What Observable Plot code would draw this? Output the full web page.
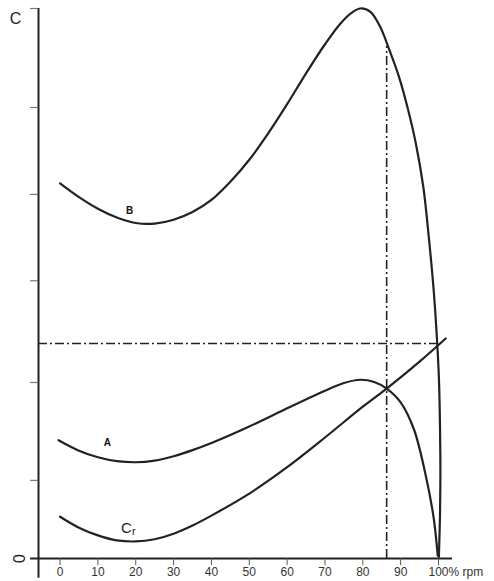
<!DOCTYPE html>
<html>
<head>
<meta charset="utf-8">
<script src="https://cdn.jsdelivr.net/npm/d3@7"></script>
<script src="https://cdn.jsdelivr.net/npm/@observablehq/plot@0.6"></script>
<style>
  html, body { margin: 0; padding: 0; background: #fff; }
  svg { font-family: "Liberation Sans", Arial, sans-serif; }
</style>
</head>
<body>
<div id="chart"></div>
<script>
// Curve B
const bX = [0, 5, 10, 15, 20, 25, 30, 35, 40, 45, 50, 55, 60, 65, 70, 74, 77, 79.4, 82.0, 84.5, 87.0, 89.5, 92.0, 94.0, 96.0, 97.5, 98.7, 99.5, 100.1, 100.4, 100.5, 100.4, 100.1];
const bY = [68.2, 65.7, 63.6, 62.0, 61.0, 60.9, 61.6, 63.0, 65.2, 68.5, 72.5, 77.3, 82.6, 88.2, 93.5, 97.2, 99.2, 100, 99.4, 96.8, 92.5, 87.7, 81.5, 75.5, 67.5, 58.0, 49.0, 41.0, 33.0, 24.0, 16.0, 8.0, 0.3];
// Curve A
const aX = [-0.4, 5, 10, 15, 20, 25, 30, 35, 40, 50, 60, 70, 75, 79.4, 83, 86.3, 90, 93.5, 96.5, 98.7, 99.8];
const aY = [21.5, 19.6, 18.4, 17.7, 17.5, 17.8, 18.6, 19.7, 21.0, 24.0, 27.3, 30.5, 31.9, 32.5, 32.1, 30.9, 28.4, 23.5, 15.5, 7.5, 0.5];
// Curve Cr
const crX = [0, 5, 10, 15, 20, 25, 30, 35, 40, 50, 60, 70, 80, 86.3, 95, 101.9];
const crY = [7.6, 5.6, 4.2, 3.3, 3.1, 3.5, 4.5, 6.0, 7.8, 11.8, 16.6, 22.0, 27.6, 30.9, 35.8, 40.0];
// Axis ticks
const xTicks = [0, 10, 20, 30, 40, 50, 60, 70, 80, 90, 100];
const xTickLabels = ["0", "10", "20", "30", "40", "50", "60", "70", "80", "90", "100"];
const yTicks = [100, 82, 66.2, 50.5, 32, 14.2];
// Reference (dash-dot) lines
const refX = 86.3;
const refXTop = 93.1;
const refY = 39.1;
const refYEnd = 100.5;

const xMin = -5.7, xMax = 103.7;
const toPts = (xs, ys) => xs.map((x, i) => ({x, y: ys[i]}));
const ink = "#222";

const chart = Plot.plot({
  width: 494,
  height: 581,
  marginLeft: 38,
  marginRight: 42,
  marginTop: 8,
  marginBottom: 23,
  x: {domain: [xMin, xMax], axis: null},
  y: {domain: [0, 100], axis: null},
  marks: [
    // dash-dot reference lines
    Plot.ruleY([refY], {x1: xMin, x2: refYEnd, stroke: ink, strokeWidth: 1.6, strokeDasharray: "9,3,2,3"}),
    Plot.ruleX([refX], {y1: 0, y2: refXTop, stroke: ink, strokeWidth: 1.6, strokeDasharray: "9,3,2,3"}),
    // curves
    Plot.line(toPts(bX, bY), {x: "x", y: "y", curve: "catmull-rom", stroke: ink, strokeWidth: 2.2}),
    Plot.line(toPts(aX, aY), {x: "x", y: "y", curve: "catmull-rom", stroke: ink, strokeWidth: 2.2}),
    Plot.line(toPts(crX, crY), {x: "x", y: "y", curve: "catmull-rom", stroke: ink, strokeWidth: 2.2}),
    // axes
    Plot.ruleX([xMin], {y1: -3.6, y2: 100, stroke: ink, strokeWidth: 2}),
    Plot.ruleY([0], {x1: -7.8, x2: xMax, stroke: ink, strokeWidth: 2.2}),
    Plot.ruleY(yTicks, {x1: -7.8, x2: xMin, stroke: "#777", strokeWidth: 1.2}),
    Plot.ruleX(xTicks, {y1: 0, y2: -1.3, stroke: "#555", strokeWidth: 1}),
    Plot.text(xTicks, {x: d => d, y: -2.4, text: (d, i) => xTickLabels[i], fontSize: 12, fill: "#333", textAnchor: "middle", lineAnchor: "middle"}),
    Plot.text(["% rpm"], {x: 100, y: -2.4, text: d => d, dx: 10, fontSize: 12, fill: "#333", textAnchor: "start", lineAnchor: "middle"}),
    // axis labels
    Plot.text(["C"], {x: xMin, y: 100, text: d => d, dx: -23, dy: 10, fontSize: 16, fill: "#222", textAnchor: "middle", lineAnchor: "middle"}),
    Plot.text(["0"], {x: xMin, y: 0, text: d => d, dx: -19, dy: 0, fontSize: 16, fill: "#222", rotate: -90, textAnchor: "middle", lineAnchor: "middle"}),
    // curve labels
    Plot.text(["B"], {x: 18.4, y: 63.3, text: d => d, fontSize: 10, fontWeight: "bold", fill: "#111", textAnchor: "middle", lineAnchor: "middle"}),
    Plot.text(["A"], {x: 12.5, y: 21.0, text: d => d, fontSize: 10, fontWeight: "bold", fill: "#111", textAnchor: "middle", lineAnchor: "middle"}),
    Plot.text(["C"], {x: 18.2, y: 5.6, text: d => d, fontSize: 15, fill: "#222", textAnchor: "end", lineAnchor: "middle", dx: 3}),
    Plot.text(["r"], {x: 18.2, y: 5.6, text: d => d, fontSize: 11, fill: "#222", textAnchor: "start", lineAnchor: "middle", dx: 3, dy: 4})
  ]
});
document.getElementById("chart").appendChild(chart);
</script>
</body>
</html>
